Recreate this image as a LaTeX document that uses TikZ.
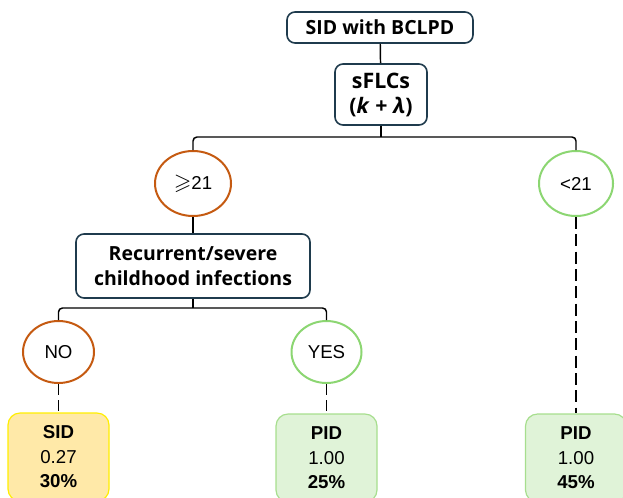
\documentclass[tikz,border=0pt]{standalone}
\usepackage{fontspec}
\usepackage{amssymb}
\setmainfont{Liberation Sans}
\newfontfamily\hd{Open Sans}
\usetikzlibrary{shapes.geometric}
\definecolor{darkb}{HTML}{1F3B4D}
\definecolor{orng}{HTML}{C55A11}
\definecolor{lgreen}{HTML}{8CD672}
\definecolor{sidfill}{HTML}{FFE9A8}
\definecolor{sidline}{HTML}{FFEE00}
\definecolor{pidfill}{HTML}{E0F3D8}
\definecolor{pidline}{HTML}{A7DE8E}
\tikzset{
  qbox/.style={draw=darkb, line width=1.2pt, fill=white, rounded corners=6pt, align=center, inner sep=0pt,
    font=\hd\bfseries\fontsize{14.6}{18.8}\selectfont},
  oval/.style={ellipse, line width=1.5pt, fill=white, inner sep=0pt, font=\fontsize{14}{15}\selectfont},
  bad/.style={oval, draw=orng},
  good/.style={oval, draw=lgreen},
  res/.style={rounded corners=9pt, line width=0.9pt, align=center, inner sep=0pt,
    minimum width=75.75pt, minimum height=66pt, font=\fontsize{14}{18.4}\selectfont},
  sidres/.style={res, draw=sidline, fill=sidfill},
  pidres/.style={res, draw=pidline, fill=pidfill},
  conn/.style={line width=1.1pt, black},
  dconn/.style={conn, dash pattern=on 8pt off 4pt},
}
\begin{document}
\begin{tikzpicture}[x=0.75pt,y=-0.75pt]
\useasboundingbox (0,0) rectangle (623,497);
\clip (0,0) rectangle (623,497);
\node[qbox, minimum width=139.5pt, minimum height=23.25pt] (top) at (380,27.5) {SID with BCLPD};
\node[qbox, minimum width=69pt, minimum height=45.75pt, font=\hd\bfseries\fontsize{16}{18.8}\selectfont] (sflc) at (381,94.5) {sFLCs\\(\textit{k} + \textit{λ})};
\node[bad, minimum width=57pt, minimum height=48.75pt] (ge) at (193,183.5) {{\fontsize{17}{17}\selectfont$\geqslant$}21};
\node[good, minimum width=55.5pt, minimum height=48.75pt] (lt) at (576,183.5) {<21};
\node[qbox, minimum width=175.5pt, minimum height=48pt] (rec) at (193,266) {Recurrent/severe\\childhood infections};
\node[bad, minimum width=53.25pt, minimum height=46.5pt] (no) at (58.5,352) {NO};
\node[good, minimum width=52.5pt, minimum height=46.5pt] (yes) at (326.5,352) {YES};
\node[sidres] (sid) at (58.5,457) {\textbf{SID}\\0.27\\\textbf{30\%}};
\node[pidres] (pid1) at (326.5,458) {\textbf{PID}\\1.00\\\textbf{25\%}};
\node[pidres] (pid2) at (576,458) {\textbf{PID}\\1.00\\\textbf{45\%}};
\coordinate (b1) at (381,137);
\coordinate (b2) at (193,308);
\draw[conn] (top) -- (sflc);
\draw[conn] (sflc.south) -- (b1);
\draw[conn, rounded corners=3pt] (ge.north) |- (b1) -| (lt.north);
\draw[conn] (ge.south) -- (rec.north);
\draw[conn] (rec.south) -- (b2);
\draw[conn, rounded corners=3pt] (no.north) |- (b2) -| (yes.north);
\draw[dconn] (no.south) -- (sid.north);
\draw[dconn] (yes.south) -- (pid1.north);
\draw[dconn, dash pattern=on 9pt off 4pt] (lt.south) -- (pid2.north);
\end{tikzpicture}
\end{document}
